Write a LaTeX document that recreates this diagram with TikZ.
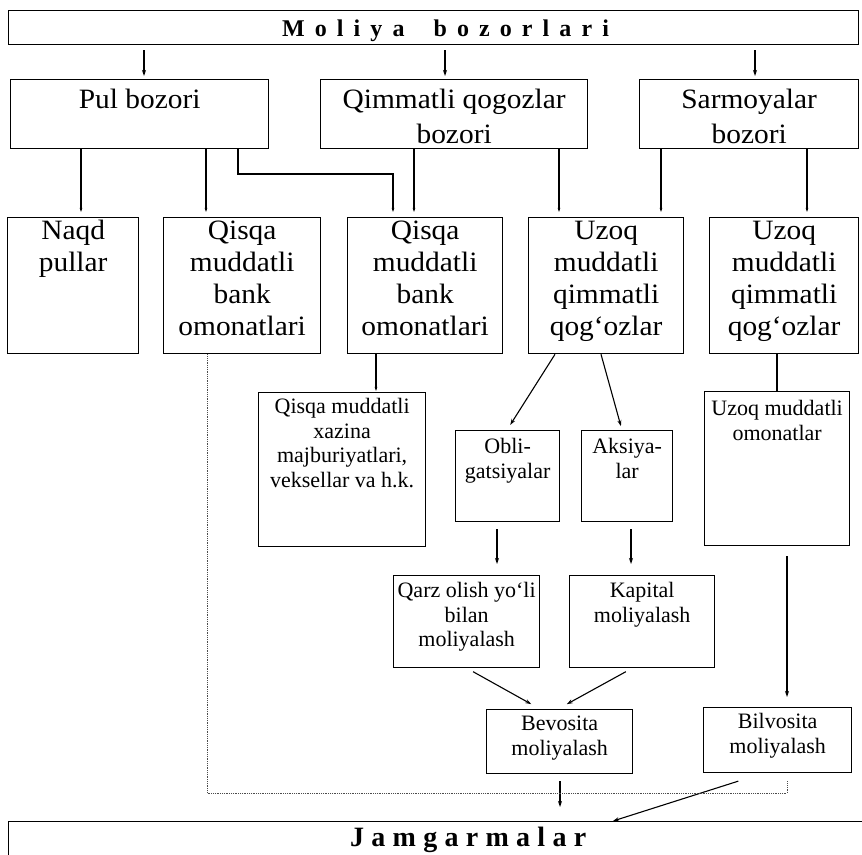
\documentclass[tikz,border=0pt]{standalone}
\usepackage{fontspec}
\setmainfont{Liberation Serif}
\newfontfamily\bigf[FakeStretch=1.05]{Liberation Serif}
\newfontfamily\smallf{Liberation Serif}
\newfontfamily\titlef[LetterSpace=42]{Liberation Serif}
\newfontfamily\titleJ[LetterSpace=26]{Liberation Serif}
\usetikzlibrary{arrows.meta}
\newcommand\cellbox[4]{\parbox[t][#2pt][t]{#1pt}{\centering\rule{0pt}{#3pt}#4\par}}
\begin{document}
\begin{tikzpicture}[x=1pt,y=-1pt,
  box/.style={draw, line width=1.3pt, inner sep=0pt, anchor=north west},
  big/.style={font=\bigf\fontsize{28}{32}\selectfont},
  mid/.style={font=\bigf\fontsize{28}{35}\selectfont},
  small/.style={font=\smallf\fontsize{22}{24.5}\selectfont},
  title/.style={inner sep=0pt, anchor=base west},
  conn/.style={line width=1.1pt},
  arr/.style={conn, -{Stealth[length=6pt,width=4pt]}},
  tinyarr/.style={conn, -{Stealth[length=4pt,width=2.5pt]}},
  dots/.style={line width=0.8pt, black!70, densely dotted}]
\useasboundingbox (0,0) rectangle (862,854);

% titles
\node[box, minimum width=850, minimum height=34] (moliya) at (8,10) {};
\node[title, font=\titlef\bfseries\fontsize{24}{28}\selectfont] (moliyat) at (282,36) {Moliya\hspace{13pt} bozorlari};
\node[box, minimum width=870, minimum height=60] (jam) at (8,821) {};
\node[title, font=\titleJ\bfseries\fontsize{28}{32}\selectfont] (jamt) at (350,846) {Jamgarmalar};

% row 2
\node[box, mid] (pul) at (10,79) {\cellbox{258}{69}{29}{Pul bozori}};
\node[box, mid] (qimm) at (320,79) {\cellbox{267}{69}{29}{Qimmatli qogozlar\\bozori}};
\node[box, mid] (sarm) at (639,79) {\cellbox{219}{69}{29}{Sarmoyalar\\bozori}};

% row 3
\node[box, big] (naqd) at (7,217) {\cellbox{131}{136}{22}{Naqd\\pullar}};
\node[box, big] (qa) at (163,217) {\cellbox{157}{136}{22}{Qisqa\\muddatli\\bank\\omonatlari}};
\node[box, big] (qb) at (347,217) {\cellbox{155}{136}{22}{Qisqa\\muddatli\\bank\\omonatlari}};
\node[box, big] (ua) at (528,217) {\cellbox{155}{136}{22}{Uzoq\\muddatli\\qimmatli\\qog‘ozlar}};
\node[box, big] (ub) at (709,217) {\cellbox{149}{136}{22}{Uzoq\\muddatli\\qimmatli\\qog‘ozlar}};

% small boxes
\node[box, small] (xaz) at (258,392) {\cellbox{167}{154}{21}{Qisqa muddatli\\xazina\\majburiyatlari,\\veksellar va h.k.}};
\node[box, small] (obli) at (455,430) {\cellbox{104}{91}{23}{Obli-\\gatsiyalar}};
\node[box, small] (aks) at (581,430) {\cellbox{91}{91}{23}{Aksiya-\\lar}};
\node[box, small] (omon) at (704,391) {\cellbox{145}{154}{24}{Uzoq muddatli\\omonatlar}};
\node[box, small] (qarz) at (393,575) {\cellbox{146}{92}{22}{Qarz olish yo‘li\\bilan\\moliyalash}};
\node[box, small] (kap) at (569,575) {\cellbox{145}{92}{22}{Kapital\\moliyalash}};
\node[box, small] (bev) at (486,709) {\cellbox{146}{64}{21}{Bevosita\\moliyalash}};
\node[box, small] (bil) at (703,707) {\cellbox{148}{65}{21}{Bilvosita\\moliyalash}};

% connectors top
\draw[arr, shorten <=5pt, shorten >=3pt] (144,0 |- moliya.south) -- (144,0 |- pul.north);
\draw[arr, shorten <=5pt, shorten >=3pt] (445,0 |- moliya.south) -- (445,0 |- qimm.north);
\draw[arr, shorten <=5pt, shorten >=3pt] (755,0 |- moliya.south) -- (755,0 |- sarm.north);

% row 2 -> row 3
\draw[tinyarr, shorten >=5pt] (81,0 |- pul.south) -- (81,0 |- naqd.north);
\draw[tinyarr, shorten >=5pt] (206,0 |- pul.south) -- (206,0 |- qa.north);
\draw[tinyarr, shorten >=5pt] (238,0 |- pul.south) -- (238,174) -- (393,174) -- (393,0 |- qb.north);
\draw[tinyarr, shorten >=5pt] (414,0 |- qimm.south) -- (414,0 |- qb.north);
\draw[tinyarr, shorten >=5pt] (559,0 |- qimm.south) -- (559,0 |- ua.north);
\draw[tinyarr, shorten >=5pt] (661,0 |- sarm.south) -- (661,0 |- ua.north);
\draw[tinyarr, shorten >=5pt] (807,0 |- sarm.south) -- (807,0 |- ub.north);

% row 3 -> lower
\draw[tinyarr, shorten >=1pt] (376,0 |- qb.south) -- (376,0 |- xaz.north);
\draw[arr, shorten >=6pt] (555,0 |- ua.south) -- (507,0 |- obli.north);
\draw[arr, shorten >=4pt] (601,0 |- ua.south) -- (622,0 |- aks.north);
\draw[conn] (777,0 |- ub.south) -- (777,0 |- omon.north);
\draw[arr, shorten <=7pt, shorten >=11pt] (497,0 |- obli.south) -- (497,0 |- qarz.north);
\draw[arr, shorten <=7pt, shorten >=11pt] (631,0 |- aks.south) -- (631,0 |- kap.north);
\draw[arr, shorten <=7pt, shorten >=10pt] (467,0 |- qarz.south) -- (540,0 |- bev.north);
\draw[arr, shorten <=7pt, shorten >=10pt] (632,0 |- kap.south) -- (558,0 |- bev.north);
\draw[arr, shorten <=10pt, shorten >=10pt] (787,0 |- omon.south) -- (787,0 |- bil.north);
\draw[arr, shorten <=7pt, shorten >=14pt] (560,0 |- bev.south) -- (560,0 |- jam.north);
\draw[arr, shorten <=7pt] (745,779) -- (613,0 |- jam.north);

% dotted collector
\draw[dots] (207,0 |- qa.south) -- (207,793) -- (787,793) -- (787,781);
\end{tikzpicture}
\end{document}
